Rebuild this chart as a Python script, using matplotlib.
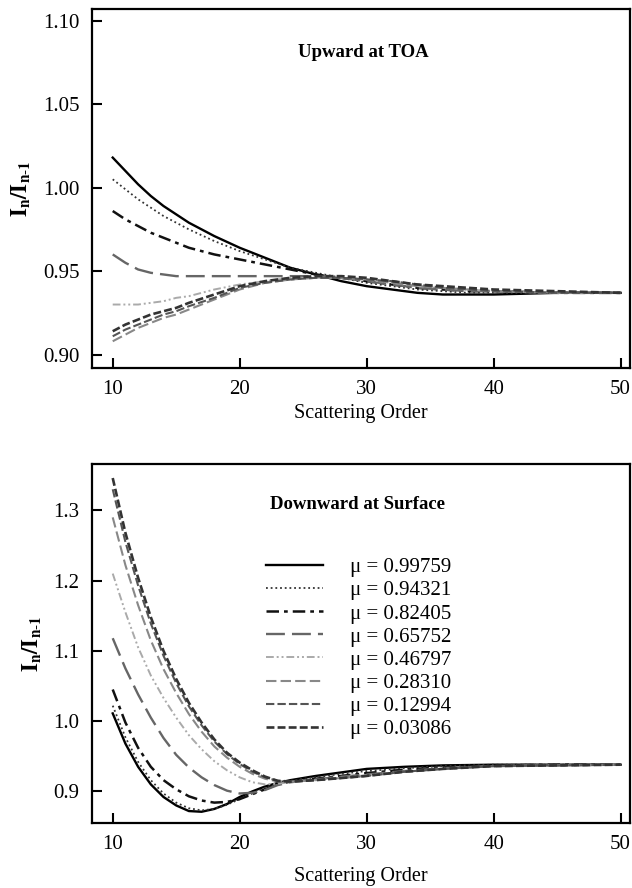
import matplotlib
matplotlib.use("Agg")
import matplotlib.pyplot as plt

plt.rcParams["font.family"] = ["Liberation Serif", "DejaVu Serif"]
plt.rcParams["mathtext.fontset"] = "stix"

MU_LABELS = ["0.99759", "0.94321", "0.82405", "0.65752",
             "0.46797", "0.28310", "0.12994", "0.03086"]

# upward radiance ratio at TOA
x_up = [10, 11, 12, 13, 14, 15, 16, 18, 20, 22, 24, 26, 28, 30, 32, 34, 36, 38, 40, 45, 50]
up_99759 = [1.018, 1.010, 1.002, 0.995, 0.989, 0.984, 0.979, 0.971, 0.964, 0.958, 0.952,
            0.948, 0.944, 0.941, 0.939, 0.937, 0.936, 0.936, 0.936, 0.937, 0.937]
up_94321 = [1.005, 0.999, 0.993, 0.988, 0.983, 0.979, 0.975, 0.968, 0.962, 0.957, 0.952,
            0.949, 0.946, 0.943, 0.941, 0.939, 0.938, 0.937, 0.937, 0.937, 0.937]
up_82405 = [0.986, 0.981, 0.977, 0.973, 0.970, 0.967, 0.964, 0.960, 0.957, 0.954, 0.951,
            0.948, 0.946, 0.944, 0.942, 0.940, 0.939, 0.938, 0.938, 0.937, 0.937]
up_65752 = [0.960, 0.955, 0.951, 0.949, 0.948, 0.947, 0.947, 0.947, 0.947, 0.947, 0.947,
            0.947, 0.946, 0.944, 0.942, 0.940, 0.939, 0.938, 0.938, 0.937, 0.937]
up_46797 = [0.930, 0.930, 0.930, 0.931, 0.932, 0.934, 0.935, 0.939, 0.942, 0.944, 0.946,
            0.946, 0.946, 0.945, 0.943, 0.941, 0.940, 0.939, 0.938, 0.937, 0.937]
up_28310 = [0.908, 0.912, 0.916, 0.919, 0.922, 0.924, 0.927, 0.933, 0.939, 0.943, 0.945,
            0.946, 0.946, 0.945, 0.943, 0.941, 0.940, 0.939, 0.938, 0.937, 0.937]
up_12994 = [0.911, 0.915, 0.918, 0.921, 0.924, 0.926, 0.929, 0.934, 0.940, 0.943, 0.945,
            0.946, 0.946, 0.945, 0.944, 0.942, 0.940, 0.939, 0.938, 0.937, 0.937]
up_03086 = [0.914, 0.918, 0.921, 0.924, 0.926, 0.928, 0.931, 0.936, 0.941, 0.944, 0.946,
            0.947, 0.947, 0.946, 0.944, 0.942, 0.941, 0.940, 0.939, 0.938, 0.937]

# downward radiance ratio at surface
x_dn = [10, 11, 12, 13, 14, 15, 16, 17, 18, 19, 20, 21, 22, 23, 24, 25, 26, 28, 30, 33, 36, 40, 45, 50]
dn_99759 = [1.011, 0.968, 0.935, 0.910, 0.892, 0.880, 0.872, 0.871, 0.875, 0.882, 0.892, 0.900,
            0.907, 0.912, 0.916, 0.919, 0.922, 0.927, 0.932, 0.935, 0.937, 0.938, 0.938, 0.938]
dn_94321 = [1.022, 0.977, 0.942, 0.916, 0.897, 0.884, 0.876, 0.873, 0.875, 0.881, 0.889, 0.897,
            0.905, 0.911, 0.915, 0.918, 0.920, 0.925, 0.929, 0.933, 0.936, 0.938, 0.938, 0.938]
dn_82405 = [1.045, 0.998, 0.962, 0.935, 0.916, 0.903, 0.893, 0.887, 0.884, 0.885, 0.889, 0.896,
            0.903, 0.910, 0.914, 0.916, 0.918, 0.922, 0.926, 0.931, 0.934, 0.937, 0.938, 0.938]
dn_65752 = [1.118, 1.075, 1.038, 1.005, 0.976, 0.952, 0.934, 0.920, 0.909, 0.901, 0.897, 0.898,
            0.902, 0.909, 0.913, 0.915, 0.917, 0.921, 0.924, 0.929, 0.933, 0.936, 0.937, 0.938]
dn_46797 = [1.210, 1.155, 1.105, 1.065, 1.033, 1.005, 0.980, 0.960, 0.943, 0.930, 0.920, 0.913,
            0.910, 0.911, 0.913, 0.915, 0.916, 0.920, 0.923, 0.928, 0.932, 0.936, 0.937, 0.938]
dn_28310 = [1.290, 1.222, 1.165, 1.115, 1.074, 1.040, 1.010, 0.985, 0.964, 0.948, 0.935, 0.925,
            0.918, 0.914, 0.914, 0.915, 0.916, 0.919, 0.922, 0.928, 0.932, 0.936, 0.937, 0.938]
dn_12994 = [1.330, 1.255, 1.193, 1.139, 1.093, 1.054, 1.021, 0.994, 0.971, 0.953, 0.939, 0.928,
            0.920, 0.915, 0.914, 0.915, 0.916, 0.919, 0.922, 0.928, 0.932, 0.936, 0.937, 0.938]
dn_03086 = [1.346, 1.268, 1.204, 1.148, 1.100, 1.060, 1.026, 0.998, 0.974, 0.955, 0.941, 0.930,
            0.921, 0.915, 0.914, 0.915, 0.916, 0.919, 0.922, 0.928, 0.932, 0.936, 0.937, 0.938]

up_series = [up_99759, up_94321, up_82405, up_65752, up_46797, up_28310, up_12994, up_03086]
dn_series = [dn_99759, dn_94321, dn_82405, dn_65752, dn_46797, dn_28310, dn_12994, dn_03086]

STYLES = [
    dict(color="#000000", lw=1.7, ls="-"),
    dict(color="#333333", lw=1.3, ls=(0, (1, 1.6))),
    dict(color="#111111", lw=1.8, ls=(0, (5, 2, 1.5, 2))),
    dict(color="#666666", lw=1.7, ls=(0, (8, 3))),
    dict(color="#aaaaaa", lw=1.4, ls=(0, (4, 1.5, 1, 1.5, 1, 1.5))),
    dict(color="#888888", lw=1.5, ls=(0, (5, 2))),
    dict(color="#555555", lw=1.5, ls=(0, (4, 1.5))),
    dict(color="#333333", lw=1.9, ls=(0, (3, 1.2))),
]

fig = plt.figure(figsize=(6.32, 8.88), dpi=100)
ax1 = fig.add_axes([0.1456, 0.5856, 0.851, 0.4043])
ax2 = fig.add_axes([0.1456, 0.0732, 0.851, 0.4043])

for ys, st in zip(up_series, STYLES):
    ax1.plot(x_up, ys, **st)
for ys, st, mu in zip(dn_series, STYLES, MU_LABELS):
    ax2.plot(x_dn, ys, label="\u03bc = " + mu, **st)

ylabel = r"$\mathbf{I_n/I_{n\text{-}1}}$"
for ax in (ax1, ax2):
    ax.set_xlim(8.37, 50.73)
    ax.set_xticks([10, 20, 30, 40, 50])
    ax.tick_params(direction="in", length=7, width=1.5, labelsize=15, pad=9,
                   top=False, right=False)
    for sp in ax.spines.values():
        sp.set_linewidth(1.6)
    ax.set_ylabel(ylabel, fontsize=16, labelpad=7)
ax1.set_xlabel("Scattering Order", fontsize=14.5, labelpad=3)
ax2.set_xlabel("Scattering Order", fontsize=14.5, labelpad=9)

ax1.set_ylim(0.892, 1.107)
ax1.set_yticks([0.90, 0.95, 1.00, 1.05, 1.10])
ax1.set_yticklabels(["0.90", "0.95", "1.00", "1.05", "1.10"])
ax1.text(0.504, 0.880, "Upward at TOA", transform=ax1.transAxes, ha="center",
         va="center", fontsize=13.5, fontweight="bold")

ax2.set_ylim(0.855, 1.366)
ax2.set_yticks([0.9, 1.0, 1.1, 1.2, 1.3])
ax2.set_yticklabels(["0.9", "1.0", "1.1", "1.2", "1.3"])
ax2.text(0.494, 0.886, "Downward at Surface", transform=ax2.transAxes, ha="center",
         va="center", fontsize=13.5, fontweight="bold")
ax2.legend(loc="upper left", bbox_to_anchor=(0.323, 0.739), frameon=False,
           fontsize=15, handlelength=2.75, handletextpad=1.3, labelspacing=0.17,
           borderpad=0, borderaxespad=0)

fig.savefig("out.png", dpi=100)
